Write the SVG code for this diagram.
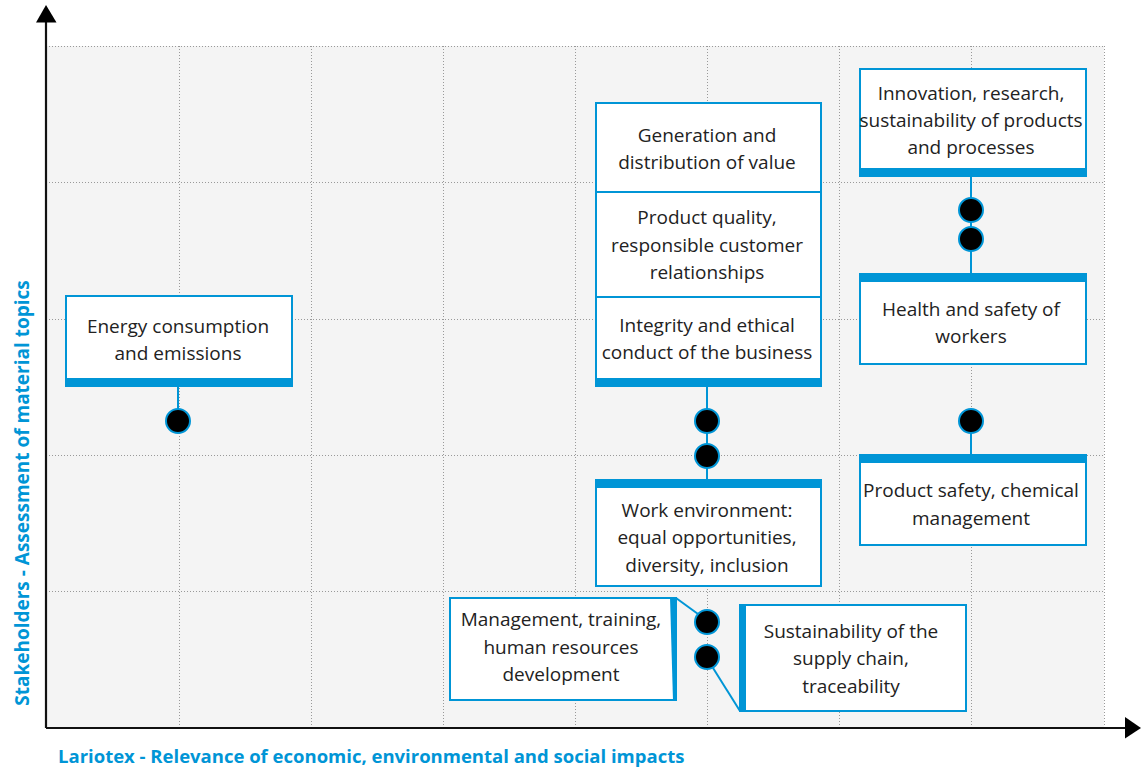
<svg xmlns="http://www.w3.org/2000/svg" width="1141" height="771" viewBox="0 0 1141 771">
  <defs>
    <style>
      .bg { fill: #f4f4f4; }
      .grid { stroke: #999; stroke-width: 1; stroke-dasharray: 1 2; fill: none; }
      .axis { stroke: #111; stroke-width: 2.2; fill: none; }
      .arrow { fill: #000; }
      .box { fill: #fff; stroke: #0095d6; stroke-width: 2; }
      .bar { fill: #0095d6; }
      .link { stroke: #0095d6; stroke-width: 2; fill: none; }
      .dot { fill: #000; stroke: #0095d6; stroke-width: 2; }
      .lbl { font-family: "Open Sans", "Liberation Sans", sans-serif; font-size: 19px; fill: #222; text-anchor: middle; }
      .axlbl { font-family: "Open Sans", "Liberation Sans", sans-serif; font-weight: bold; fill: #0095d6; }
    </style>
  </defs>

  <!-- plot area -->
  <rect class="bg" x="46" y="46" width="1058" height="682"/>
  <g id="grid">
    <path class="grid" d="M46,46.5H1104 M46,182.5H1104 M46,319.5H1104 M46,455.5H1104 M46,591.5H1104"/>
    <path class="grid" d="M179.5,46V728 M311.5,46V728 M443.5,46V728 M575.5,46V728 M707.5,46V728 M839.5,46V728 M971.5,46V728 M1104.5,46V728"/>
  </g>

  <!-- axes -->
  <g id="axes">
    <path class="axis" d="M46,728V20 M46,728H1126"/>
    <polygon class="arrow" points="46,5 36,22.5 56.5,22.5"/>
    <polygon class="arrow" points="1141,728 1125,717 1125,738.5"/>
  </g>

  <!-- connectors and markers -->
  <g id="connectors">
    <path class="link" d="M178,386V409"/>
    <circle class="dot" cx="178" cy="421" r="12"/>

    <path class="link" d="M707,386V480"/>
    <circle class="dot" cx="707" cy="421" r="12"/>
    <circle class="dot" cx="707" cy="456" r="12"/>

    <path class="link" d="M971,176V274"/>
    <circle class="dot" cx="971" cy="210" r="12"/>
    <circle class="dot" cx="971" cy="239" r="12"/>

    <path class="link" d="M971,433V455"/>
    <circle class="dot" cx="971" cy="421" r="12"/>

    <path class="link" d="M676,598L698,614"/>
    <path class="link" d="M713,668L740,711"/>
    <circle class="dot" cx="707" cy="622" r="12"/>
    <circle class="dot" cx="707" cy="657" r="12"/>
  </g>

  <!-- Energy consumption -->
  <g id="energy">
    <rect class="box" x="66" y="296" width="226" height="90"/>
    <rect class="bar" x="65" y="378" width="228" height="8"/>
    <text class="lbl" x="178" y="333">Energy consumption</text>
    <text class="lbl" x="178" y="360">and emissions</text>
  </g>

  <!-- central stack -->
  <g id="value">
    <rect class="box" x="596" y="103" width="225" height="89"/>
    <text class="lbl" x="707" y="142">Generation and</text>
    <text class="lbl" x="707" y="169">distribution of value</text>
  </g>
  <g id="quality">
    <rect class="box" x="596" y="192" width="225" height="105"/>
    <text class="lbl" x="707" y="224">Product quality,</text>
    <text class="lbl" x="707" y="252">responsible customer</text>
    <text class="lbl" x="707" y="279">relationships</text>
  </g>
  <g id="integrity">
    <rect class="box" x="596" y="297" width="225" height="89"/>
    <rect class="bar" x="595" y="378" width="227" height="8"/>
    <text class="lbl" x="707" y="332">Integrity and ethical</text>
    <text class="lbl" x="707" y="359">conduct of the business</text>
  </g>

  <!-- Work environment -->
  <g id="work">
    <rect class="box" x="596" y="480" width="225" height="106"/>
    <rect class="bar" x="595" y="480" width="227" height="8"/>
    <text class="lbl" x="707" y="517">Work environment:</text>
    <text class="lbl" x="707" y="544">equal opportunities,</text>
    <text class="lbl" x="707" y="572">diversity, inclusion</text>
  </g>

  <!-- Innovation -->
  <g id="innovation">
    <rect class="box" x="860" y="69" width="226" height="107"/>
    <rect class="bar" x="859" y="168" width="228" height="8"/>
    <text class="lbl" x="971" y="100">Innovation, research,</text>
    <text class="lbl" x="971" y="127">sustainability of products</text>
    <text class="lbl" x="971" y="154">and processes</text>
  </g>

  <!-- Health and safety -->
  <g id="health">
    <rect class="box" x="860" y="274" width="226" height="90"/>
    <rect class="bar" x="859" y="274" width="228" height="8"/>
    <text class="lbl" x="971" y="316">Health and safety of</text>
    <text class="lbl" x="971" y="343">workers</text>
  </g>

  <!-- Product safety -->
  <g id="chemical">
    <rect class="box" x="860" y="455" width="226" height="90"/>
    <rect class="bar" x="859" y="455" width="228" height="8"/>
    <text class="lbl" x="971" y="497">Product safety, chemical</text>
    <text class="lbl" x="971" y="525">management</text>
  </g>

  <!-- Management callout -->
  <g id="management">
    <rect class="box" x="450" y="598" width="226" height="102"/>
    <polygon class="bar" points="670,597 677,597 677,701 673,701"/>
    <text class="lbl" x="561" y="626">Management, training,</text>
    <text class="lbl" x="561" y="654">human resources</text>
    <text class="lbl" x="561" y="681">development</text>
  </g>

  <!-- Supply chain callout -->
  <g id="supply">
    <rect class="box" x="740" y="605" width="226" height="106"/>
    <polygon class="bar" points="741,604 746,604 746,712 739,712"/>
    <text class="lbl" x="851" y="638">Sustainability of the</text>
    <text class="lbl" x="851" y="665">supply chain,</text>
    <text class="lbl" x="851" y="693">traceability</text>
  </g>

  <!-- axis titles -->
  <g id="axis-titles">
    <text class="axlbl" x="58" y="763" font-size="18.5">Lariotex - Relevance of economic, environmental and social impacts</text>
    <text class="axlbl" font-size="19" transform="translate(29,493) rotate(-90)" text-anchor="middle">Stakeholders - Assessment of material topics</text>
  </g>
</svg>
